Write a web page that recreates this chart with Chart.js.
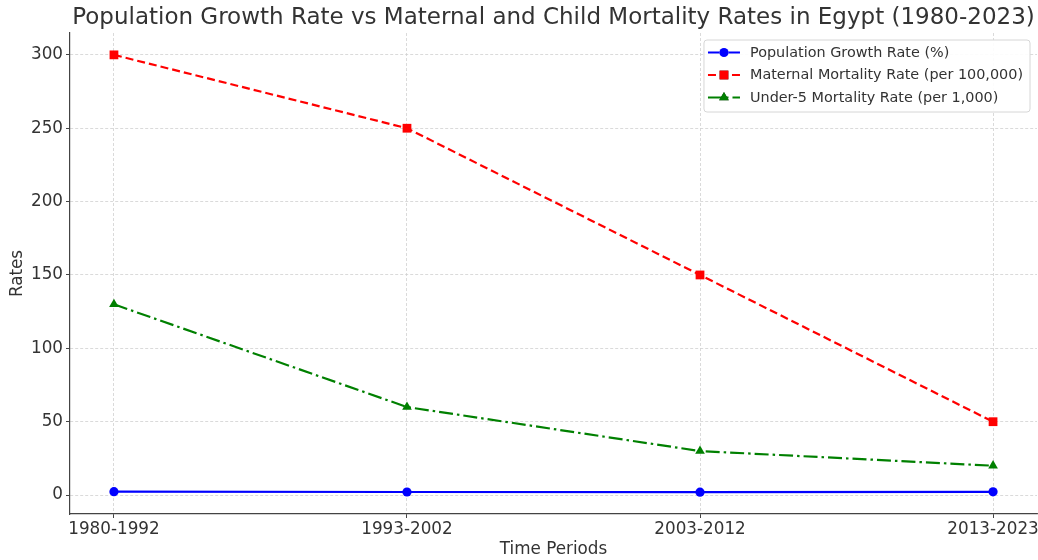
<!DOCTYPE html>
<html>
<head>
<meta charset="utf-8">
<title>Population Growth vs Maternal and Child Mortality — Egypt</title>
<script src="https://cdn.jsdelivr.net/npm/chart.js@4.4.0/dist/chart.umd.min.js"></script>
<style>
  html, body { margin: 0; padding: 0; background: #ffffff; }
  #wrap { width: 1038px; height: 560px; }
  canvas { display: block; }
</style>
</head>
<body>
<div id="wrap"><canvas id="chart" width="1038" height="560"></canvas></div>
<script>
// Periods along the x axis
const periods = ['1980-1992', '1993-2002', '2003-2012', '2013-2023'];

// Series values per period
const populationGrowth = [2.3, 2.1, 2.0, 2.2];      // %
const maternalMortality = [300, 250, 150, 50];     // per 100,000 live births
const under5Mortality = [130, 60, 30, 20];         // per 1,000 live births

// Y axis tick values
const yTicks = [0, 50, 100, 150, 200, 250, 300];

const FONT = "'DejaVu Sans', 'Liberation Sans', sans-serif";
const TEXT = '#333333';

const toPoints = arr => arr.map((v, i) => ({ x: i, y: v }));

// Boxed legend in the upper-right corner of the plot area, with line + marker handles
const boxedLegend = {
  id: 'boxedLegend',
  afterDatasetsDraw(chart) {
    const ctx = chart.ctx;
    const area = chart.chartArea;
    const sets = chart.data.datasets;
    ctx.save();
    ctx.font = '14.4px ' + FONT;
    let maxW = 0;
    sets.forEach(ds => { maxW = Math.max(maxW, ctx.measureText(ds.label).width); });
    const handleW = 32, padL = 4, gap = 10, padR = 7, rowH = 22.5;
    const boxW = padL + handleW + gap + maxW + padR;
    const boxH = sets.length * rowH + 4.5;
    const right = area.right - 7;
    const left = right - boxW;
    const top = area.top + 7;

    // frame
    const r = 3;
    ctx.beginPath();
    ctx.moveTo(left + r, top);
    ctx.lineTo(left + boxW - r, top);
    ctx.quadraticCurveTo(left + boxW, top, left + boxW, top + r);
    ctx.lineTo(left + boxW, top + boxH - r);
    ctx.quadraticCurveTo(left + boxW, top + boxH, left + boxW - r, top + boxH);
    ctx.lineTo(left + r, top + boxH);
    ctx.quadraticCurveTo(left, top + boxH, left, top + boxH - r);
    ctx.lineTo(left, top + r);
    ctx.quadraticCurveTo(left, top, left + r, top);
    ctx.closePath();
    ctx.fillStyle = 'rgba(255,255,255,0.92)';
    ctx.fill();
    ctx.strokeStyle = '#d6d6d6';
    ctx.lineWidth = 1;
    ctx.stroke();

    sets.forEach((ds, i) => {
      const cy = top + 12.5 + i * rowH;
      const x0 = left + padL;
      // line handle
      ctx.save();
      ctx.strokeStyle = ds.borderColor;
      ctx.lineWidth = ds.borderWidth;
      ctx.setLineDash(ds.borderDash || []);
      ctx.beginPath();
      ctx.moveTo(x0, cy);
      ctx.lineTo(x0 + handleW, cy);
      ctx.stroke();
      ctx.restore();
      // marker
      Chart.helpers.drawPoint(ctx, {
        pointStyle: ds.pointStyle,
        radius: ds.pointRadius,
        borderWidth: 0,
        rotation: 0
      }, x0 + handleW / 2, cy);
      ctx.fillStyle = ds.pointBackgroundColor;
      ctx.fill();
      // label
      ctx.fillStyle = TEXT;
      ctx.textAlign = 'left';
      ctx.textBaseline = 'middle';
      ctx.fillText(ds.label, x0 + handleW + gap, cy + 0.5);
    });
    ctx.restore();
  }
};

const axisTickFont = { family: FONT, size: 16.8 };

new Chart(document.getElementById('chart'), {
  type: 'line',
  data: {
    datasets: [
      {
        label: 'Population Growth Rate (%)',
        data: toPoints(populationGrowth),
        borderColor: '#0000ff',
        backgroundColor: '#0000ff',
        pointBackgroundColor: '#0000ff',
        pointBorderColor: '#0000ff',
        borderWidth: 2.2,
        pointStyle: 'circle',
        pointRadius: 4.6,
        pointBorderWidth: 0,
        tension: 0
      },
      {
        label: 'Maternal Mortality Rate (per 100,000)',
        data: toPoints(maternalMortality),
        borderColor: '#ff0000',
        backgroundColor: '#ff0000',
        pointBackgroundColor: '#ff0000',
        pointBorderColor: '#ff0000',
        borderWidth: 2.2,
        borderDash: [8, 4],
        pointStyle: 'rect',
        pointRadius: 6.2,
        pointBorderWidth: 0,
        tension: 0
      },
      {
        label: 'Under-5 Mortality Rate (per 1,000)',
        data: toPoints(under5Mortality),
        borderColor: '#008000',
        backgroundColor: '#008000',
        pointBackgroundColor: '#008000',
        pointBorderColor: '#008000',
        borderWidth: 2.2,
        borderDash: [14, 4, 2.5, 4],
        pointStyle: 'triangle',
        pointRadius: 5.6,
        pointBorderWidth: 0,
        tension: 0
      }
    ]
  },
  options: {
    responsive: false,
    animation: false,
    devicePixelRatio: 1,
    layout: { autoPadding: false, padding: { left: 0, right: 1, top: 0, bottom: 0 } },
    plugins: {
      legend: { display: false },
      tooltip: { enabled: false },
      title: {
        display: true,
        fullSize: false,
        text: 'Population Growth Rate vs Maternal and Child Mortality Rates in Egypt (1980-2023)',
        color: TEXT,
        font: { family: FONT, size: 23, weight: 'normal', lineHeight: 1.2 },
        padding: { top: 4, bottom: 1.4 }
      }
    },
    scales: {
      x: {
        type: 'linear',
        min: -0.15,
        max: 3.15,
        afterBuildTicks(scale) { scale.ticks = periods.map((_, i) => ({ value: i })); },
        afterFit(scale) {
          scale.height = 46;
          scale.paddingLeft = 0;
          scale.paddingRight = 0;
        },
        ticks: {
          autoSkip: false,
          maxRotation: 0,
          padding: 2,
          color: TEXT,
          font: axisTickFont,
          callback: v => periods[v]
        },
        grid: {
          color: '#d0d0d0',
          lineWidth: 0.8,
          tickLength: 4,
          tickColor: '#444444',
          tickWidth: 1,
          tickBorderDash: [20, 0]
        },
        border: { display: true, color: '#444444', width: 1.2, dash: [3, 2] },
        title: {
          display: true,
          text: 'Time Periods',
          color: TEXT,
          font: { family: FONT, size: 16.8, lineHeight: 1.2 },
          padding: { top: 0, bottom: 0 }
        }
      },
      y: {
        type: 'linear',
        min: -12.9,
        max: 314.9,
        afterBuildTicks(scale) { scale.ticks = yTicks.map(v => ({ value: v })); },
        afterFit(scale) {
          scale.width = 70;
          scale.paddingTop = 0;
          scale.paddingBottom = 0;
        },
        ticks: {
          padding: 3,
          color: TEXT,
          font: axisTickFont
        },
        grid: {
          color: '#d0d0d0',
          lineWidth: 0.8,
          tickLength: 4,
          tickColor: '#444444',
          tickWidth: 1,
          tickBorderDash: [20, 0]
        },
        border: { display: true, color: '#444444', width: 1.2, dash: [3, 2] },
        title: {
          display: true,
          text: 'Rates',
          color: TEXT,
          font: { family: FONT, size: 16.8, lineHeight: 1.2 },
          padding: { top: 8, bottom: 0 }
        }
      }
    }
  },
  plugins: [boxedLegend]
});
</script>
</body>
</html>
